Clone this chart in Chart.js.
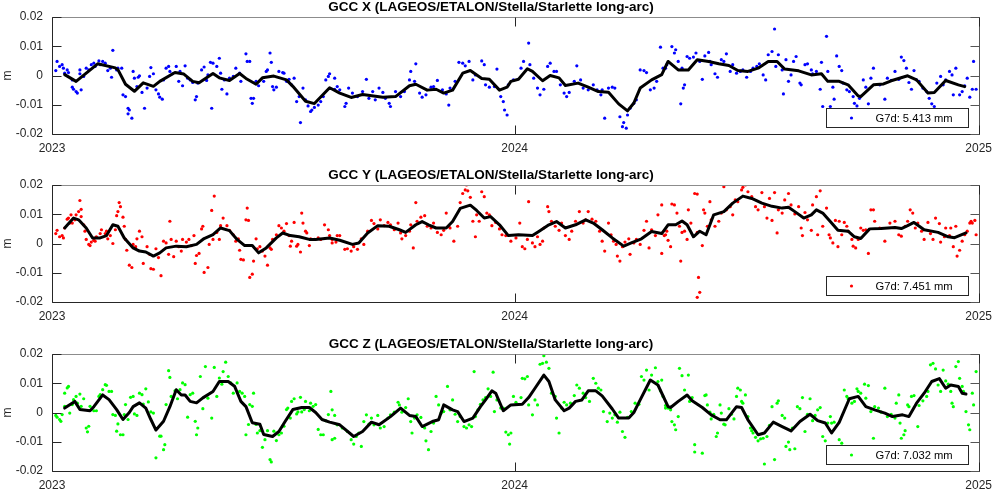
<!DOCTYPE html>
<html>
<head>
<meta charset="utf-8">
<title>GCC</title>
<script src="https://cdn.jsdelivr.net/npm/chart.js@4.4.1/dist/chart.umd.min.js"></script>
<style>
  html, body { margin: 0; padding: 0; background: #fff; }
  #wrap { position: relative; width: 999px; height: 489px; }
  canvas { position: absolute; left: 0; }
</style>
</head>
<body>
<div id="wrap">
  <canvas id="cx" width="999" height="168" style="top:0px"></canvas>
  <canvas id="cy" width="999" height="168" style="top:168px"></canvas>
  <canvas id="cz" width="999" height="168" style="top:337px"></canvas>
</div>
<script>
var tickDays = [0, 365, 731]
var yearLabels = ['2023', '2024', '2025']
var yTickLabels = ['-0.02', '-0.01', '0', '0.01', '0.02']
var panelTitles = [
  'GCC X (LAGEOS/ETALON/Stella/Starlette long-arc)',
  'GCC Y (LAGEOS/ETALON/Stella/Starlette long-arc)',
  'GCC Z (LAGEOS/ETALON/Stella/Starlette long-arc)'
]
var legendLabels = ['G7d: 5.413 mm', 'G7d: 7.451 mm', 'G7d: 7.032 mm']

// ---- GCC X ----
var gccXDots = [
  [3,1.7],[4,4.8],[6,3.1],[8,3.7],[9,2.5],[10,0.8],[12,1.9],[13,1.0],[16,-1.5],[16,-4],[17,-4.7],[19,-5.5],[20,-6],[22,1.9],[22,0.6],[23,-4.9],[25,-0.3],[27,2.5],[29,1.9],[31,3.7],[33,4.2],[34,3.1],[37,5],[38,3.7],[40,4.8],[42,4.2],[44,1.7],[46,2.5],[47,-0.6],[48,8.6],[51,1.9],[52,2.5],[55,2.5],[56,-6.6],[58,-7.2],[60,-11.2],[60,-13.1],[61,-11.8],[63,-14.6],[64,1.4],[65,-0.9],[67,-3.8],[68,-0.6],[69,-0.1],[71,-5.8],[73,-11.2],[75,-4.3],[77,-0.3],[78,2.7],[80,0.6],[82,-4.9],[84,-6.3],[85,-7.4],[87,-8.1],[88,-1.5],[90,2.5],[92,3.1],[93,1.4],[95,0.6],[98,3.1],[100,-2],[101,1.4],[103,-3.5],[105,3.3],[107,-0.9],[109,-1.5],[111,-2.4],[113,-8.3],[114,-7.2],[115,-2.6],[118,1.9],[120,2.9],[122,-1.7],[123,0.2],[125,4.5],[126,-11.2],[127,4.2],[130,3.1],[132,5.9],[133,0.8],[134,-4.7],[136,-1.5],[138,-6.3],[140,-0.9],[143,-0.3],[145,2.5],[148,0.8],[149,-2],[153,7.4],[154,4.8],[156,4.8],[157,-7.8],[158,-9.5],[159,-7.8],[161,-2],[163,-3.5],[167,-2],[169,1.4],[170,1.9],[172,7.7],[173,4.5],[174,-3.8],[175,-4.9],[177,-4],[179,1.4],[182,1.0],[183,0.8],[185,-2],[187,-1.3],[189,-3.2],[191,-0.9],[193,-8.9],[195,-7.2],[196,-16.1],[198,-4.3],[200,-8.3],[202,-10.4],[204,-12.3],[205,-11.8],[207,-10.9],[210,-10.1],[212,-8.9],[214,-7.2],[216,-1.5],[218,-0.3],[219,0.6],[223,-4.7],[225,-3.8],
  [223,-0.9],[227,-4.9],[231,-10.6],[232,-9.5],[234,-4.3],[237,-6],[241,-7.2],[245,-5.5],[248,-1.3],[250,-7.8],[253,-5.5],[255,-8.3],[258,-4.3],[261,-5.8],[263,-7.8],[266,-9.5],[267,-10.6],[271,-5.5],[275,-7.2],[278,-5.5],[282,-1.5],[283,1.4],[286,-2],[287,4],[290,-6],[292,-7.4],[295,-6.6],[299,-4],[301,-3.8],[304,-1.7],[308,-4.9],[311,-6.3],[313,-10.1],[314,-4.3],[318,-2],[321,4.5],[324,4.2],[326,3.3],[329,4.8],[332,-1.5],[334,0.2],[339,5],[341,3.7],[342,-3.2],[345,-4],[349,-3.8],[351,2.2],[354,-7.2],[356,-8.9],[357,-11.8],[359,-13.5],[360,-3.2],[364,-1.5],[370,2.5],[372,4.8],[376,11.1],[377,3.7],[380,-0.9],[383,-4.3],[385,-6.6],[388,-4.7],[391,3.1],[393,4.2],[396,1.4],[398,1.4],[401,-3.2],[404,-6],[406,-7.2],[408,-5.8],[412,-2],[414,3.3],[417,-1.5],[419,-4.3],[423,-4.9],[427,-3.2],[430,-4.9],[433,-6.6],[434,-4.9],[436,-14.6],[439,-4.3],[442,-4],[444,-4.3],[448,-14.1],[450,-17.5],[451,-16.1],[453,-18],[454,-13.5],[456,-11.2],[459,-9.5],[461,-8.3],[464,1.9],[467,1.7],[469,1],[472,-4.9],[475,-4.3],[477,-2],[480,9.7],[482,2.5],[485,3.7],
  [484,2.5],[489,9.9],[491,7.7],[492,8.8],[494,4.8],[496,-9.7],[497,2.5],[498,-4.3],[499,-3.2],[501,6.5],[503,5.9],[506,6.3],[508,7.7],[511,4.8],[513,-1.3],[515,6.7],[518,7.9],[519,4.8],[520,3.7],[523,0.6],[525,-0.6],[528,5.4],[530,4.8],[532,7.4],[535,1.4],[537,3.7],[540,0.8],[543,1.4],[545,1.9],[548,-0.6],[551,1.4],[553,2.5],[556,3.1],[558,4],[561,0.2],[563,-1.5],[565,7.1],[568,8.2],[570,15.9],[571,3.1],[573,7.1],[576,1.9],[577,-6.3],[579,5.4],[581,-2],[583,0.2],[585,4.8],[587,6.5],[590,-2.6],[591,-3.2],[594,3.7],[596,4],[599,1.9],[600,0.6],[603,1.4],[606,-4.7],[607,4.5],[608,-10.6],[611,13.4],[612,1.4],[614,-10.6],[616,-4],[617,-8.1],[619,6.7],[621,3.1],[623,1.7],[624,-2.6],[627,-4.9],[629,-5.5],[632,-7.2],[633,-9.5],[635,-10.4],[637,-7.8],[640,-1.5],[642,-4],[644,-9.7],[646,-0.9],[648,2.5],[653,-3.2],[657,-8.1],[659,-0.9],[662,-1.7],[665,1.4],[668,-1.3],[670,6.3],[672,5.1],[674,2.5],[676,-2.4],[678,-4.7],[680,1.7],[682,-1.5],[684,-2],[687,-4.3],[690,-5.5],[692,-7.8],[694,-9.7],[696,-10.6],[698,-2.6],[701,-0.3],[703,-3.2],[705,-1.5],[708,1.4],[710,0.2],[711,-6.6],[713,2.5],[716,-6.6],[718,-5.5],[720,-3.5],[722,-0.9],[724,-7.4],[726,-4.7],[727,4.8],[729,-4.7]
]
var gccXFit = [
  [10,0.3],[19,-2],[36,4],[50,2.6],[52,2],[58,-3],[65,-5.4],[72,-2.5],[80,-3.7],[85,-2],[97,1],[104,0.5],[111,-2],[116,-2.5],[127,0.7],[132,-0.8],[140,-1.7],[148,0.7],[153,-1],[161,-3],[166,-0.8],[175,-0.2],[185,-1.5],[190,-3.7],[200,-8.8],[207,-9.6],[215,-6],[219,-4.2],[227,-6],[236,-7.5],[245,-6.5],[261,-7.4],[271,-7.2],[282,-3.5],[287,-3],[296,-5],[303,-4.7],[309,-6],[316,-5],[324,0.8],[330,1.7],[339,-1],[345,-1.3],[353,-5],[359,-4],[362,-2],[368,-1.3],[375,2.3],[379,1.4],[387,-1.8],[393,0],[400,-0.8],[405,-3.4],[415,-2.6],[423,-4],[431,-5.5],[439,-5.7],[447,-9.7],[454,-12.1],[459,-9.4],[464,-4.3],[473,-1.5],[481,0.3],[486,4.8],[494,1.9],[502,1.9],[509,5.4],[518,4.8],[526,4],[534,3.4],[541,1.7],[549,1.4],[557,2.5],[565,4.8],[572,4.8],[578,2.2],[589,1.6],[599,0.2],[607,0.6],[612,-2],[621,-2],[628,-3.2],[636,-7],[638,-7.2],[648,-3.2],[656,-2.9],[662,-1.8],[675,-0.1],[682,-1.5],[691,-6],[696,-5.8],[705,-1.7],[715,-3.2],[720,-3.8]
]

// ---- GCC Y ----
var gccYDots = [
  [3,3.4],[4,4.5],[6,2.3],[8,2.7],[9,1.9],[10,5.3],[12,8.3],[13,8.7],[14,7],[15,9.8],[16,7],[18,8.1],[19,9.8],[21,10.9],[22,14.7],[23,11.7],[23,9.2],[25,6.4],[26,4.2],[27,1.4],[29,-0.3],[30,-0.7],[31,0.5],[33,1.1],[34,0.8],[35,2.3],[38,3.4],[39,4.7],[42,3.4],[43,4.2],[44,1.6],[46,2.7],[48,0],[50,4.7],[51,9.5],[52,10.9],[53,14],[54,12.6],[56,9],[57,5.9],[58,1.4],[59,-2.3],[61,-7.4],[63,-8.2],[64,-0.3],[66,-1.1],[67,1.6],[69,4.2],[71,2.3],[72,-6.8],[75,-1.1],[77,-3.7],[78,-8.6],[80,-8.8],[82,-1.8],[84,-4.8],[86,-11],[88,0.8],[90,0.2],[92,-3.7],[93,7.6],[94,1.4],[96,-4.5],[98,0.8],[100,-1.1],[102,-2.6],[103,1.4],[106,0.5],[108,1.4],[110,-0.7],[112,2.7],[113,-6.8],[114,-4.1],[116,-3.4],[118,5],[119,5.9],[120,-9.9],[123,-8.2],[124,-0.3],[126,11.3],[127,1.4],[128,16.2],[130,3.8],[132,1.4],[133,6.1],[135,8.7],[138,6.1],[140,4.5],[143,3],[145,0.8],[147,1.6],[148,-2.3],[149,-5.4],[151,-5.6],[153,8.1],[154,12.1],[155,7.9],[156,-11.6],[158,-10.5],[159,-6],[161,1.6],[162,-1.8],[164,-1.1],[166,-2.6],[168,-4.3],[170,-7.4],[172,-1.5],[173,-2],[174,1.4],[177,3],[179,6.1],[181,5.3],[183,4.2],[185,6.8],[187,2.7],[188,-0.9],[189,0.8],[191,7.2],[193,-0.9],[194,-0.3],[196,-2.9],[197,10.4],[198,7],[200,4.2],[201,3.6],[203,-0.7],[204,1.6],[207,1.4],[210,1.9],[212,1.4],[215,6.4],[218,4.7],[219,2.7],[221,0.2],[225,2.7],
  [221,1.4],[224,0.5],[227,2.7],[231,-2],[233,-1.8],[236,-2.6],[238,-1.1],[241,-2],[244,1.6],[246,-0.3],[249,4.2],[252,7.9],[254,6.8],[257,5],[259,8.1],[262,6.1],[265,7.2],[267,6.4],[270,4.7],[273,7],[275,3.6],[276,1.6],[279,2.7],[282,4.2],[283,6.4],[285,-1.5],[287,14],[288,7.6],[291,9],[294,9.5],[296,5.9],[299,5.3],[301,7],[304,3.8],[307,3],[309,4.5],[311,10.4],[313,5.9],[314,5.3],[317,0.8],[320,5.9],[322,14],[324,17.1],[326,18.3],[327,20],[328,18],[330,15.8],[332,7.6],[334,2.3],[335,9.8],[337,7.6],[339,17.7],[341,16],[343,10.4],[345,9.8],[347,6.1],[350,7.2],[353,5],[355,3],[358,2.7],[362,0.8],[366,1.9],[369,7],[371,-1.1],[373,-1.8],[375,1.4],[376,14.3],[379,0.2],[381,-1.1],[383,2.3],[385,-0.3],[387,0.8],[388,5.3],[391,12.6],[392,10.9],[394,7.6],[397,5.9],[400,4.5],[402,7],[405,2.7],[408,1.4],[410,4.2],[413,7.6],[416,10.9],[419,7],[421,8.1],[423,10.9],[426,8.3],[429,7.6],[432,4.2],[434,0.8],[436,-2.6],[439,7],[441,3],[443,0.8],[445,-0.3],[446,-4.3],[448,-6],[450,-1.1],[452,0.5],[455,1.6],[456,-3.7],[459,0.2],[461,1.4],[464,-0.3],[467,4.5],[469,7.6],[471,-1.5],[473,4.7],[476,2.7],[478,9.8],[481,13.2],[481,-3.4],[483,2.7],[485,4.2],
  [484,3],[486,1.1],[488,-1.1],[489,13.5],[491,13.2],[493,10.4],[495,5.9],[496,-6],[497,3.8],[499,4.2],[501,1.4],[502,11.5],[504,7],[507,17.1],[509,16.9],[509,3.8],[510,-11.6],[511,-16.7],[509,-18.4],[513,-0.7],[514,11.5],[515,10.4],[517,5.9],[519,14.3],[520,8.1],[523,5.9],[526,7.6],[528,10.4],[530,19.4],[532,11.5],[535,12.6],[537,9.8],[539,14.9],[541,14.3],[544,18.3],[545,19.2],[547,20],[549,17.7],[552,16],[555,12.6],[557,11.5],[560,17.4],[562,12.6],[564,8.7],[566,15.4],[568,7.9],[570,17.4],[572,3.6],[573,11.5],[576,10.4],[578,14.9],[581,17.1],[583,13.2],[586,10.1],[589,12.6],[591,5.3],[592,2.7],[594,10.6],[596,8.1],[599,4.5],[600,13.2],[603,16],[604,3],[606,18],[608,5.9],[611,12.1],[613,3],[614,1.9],[616,0.2],[618,7.9],[620,-1.1],[621,7.6],[623,3],[625,7.2],[627,5.9],[628,4.2],[631,1.4],[632,-0.9],[634,-1.5],[636,1.4],[638,5.3],[640,4.5],[642,4.7],[644,-3.4],[646,11.5],[648,11.5],[649,7.6],[653,5.3],[657,0.8],[661,7],[665,7.6],[668,3],[670,2.5],[673,5.9],[675,7.6],[677,11.5],[679,10.4],[681,5.3],[683,7],[686,4.2],[688,1.4],[691,7.2],[693,3.4],[695,1.4],[697,8.7],[700,6.8],[701,0.5],[704,2.3],[705,5.3],[708,2.7],[709,5.3],[711,-1.1],[713,5.9],[714,-4.3],[716,-2.3],[718,0.8],[720,3],[722,4.2],[724,7],[725,7.6],[726,7],[728,7.9],[729,3]
]
var gccYFit = [
  [10,5.3],[17,8.7],[21,8.1],[27,5.3],[32,1.9],[38,1.9],[43,2.7],[48,6.4],[52,5.9],[57,1.9],[64,-1.5],[69,-2.6],[74,-2.9],[80,-4.3],[85,-3.2],[90,-1.5],[98,-0.9],[106,-1.1],[114,-0.3],[120,1.7],[127,3],[133,5.3],[140,4.4],[146,1.4],[152,-0.7],[158,-0.7],[163,-3.2],[169,-1.5],[177,1.9],[182,3.6],[188,2.7],[195,2.3],[203,1.4],[208,1.4],[219,1.9],
  [227,1.1],[237,-0.3],[242,0.2],[249,3.6],[257,6.1],[266,5.9],[274,4.7],[279,3.8],[287,6.4],[292,7.5],[297,6.4],[303,5.3],[311,5.3],[316,7.5],[322,12],[330,13.1],[335,11.3],[341,8.7],[346,9.2],[353,6.4],[360,2.7],[368,3],[379,2.7],[384,4.1],[392,6.4],[398,7.5],[405,5.3],[413,6.4],[421,8.1],[427,7],[434,4.7],[442,1.9],[451,-0.9],[457,0.2],[465,1.6],[473,4.1],[481,3.4],[486,6.4],
  [492,6.4],[497,7.7],[501,6.4],[506,2.3],[511,4.2],[516,3],[522,9.8],[530,10.9],[537,13.8],[545,16.2],[552,15.4],[560,13.8],[568,12.7],[576,12.1],[581,12.4],[586,10.9],[593,8.7],[599,9.8],[603,11.5],[608,10.4],[615,7],[620,4.5],[628,4.2],[633,2.3],[638,1.7],[645,5],[654,5.1],[665,5.5],[670,5.1],[675,6.1],[680,7.2],[688,4.7],[699,3.8],[707,2.3],[712,2],[721,3.6]
]

// ---- GCC Z ----
var gccZDots = [
  [3,-1],[4,-1.6],[6,-2.4],[7,-3],[8,-0.7],[10,2.1],[10,6.6],[12,8.4],[13,8.9],[14,-0.2],[16,2.7],[17,4.4],[19,5.5],[20,3.2],[22,6.3],[23,2.1],[25,4.7],[27,-5.3],[28,-6.6],[29,-4.7],[30,2.1],[33,0.6],[35,0.6],[37,5.5],[38,6.1],[40,7.8],[42,9.5],[43,9.3],[45,7.2],[47,7.2],[48,-0.7],[50,-1],[51,-6.4],[52,-3.9],[54,-7.6],[56,-7.6],[57,-0.7],[58,2.7],[60,-2.4],[62,5.2],[64,5.5],[65,-0.5],[67,-1],[69,6.6],[71,6.1],[72,2.9],[74,8.1],[76,3.6],[78,0.2],[80,-0.2],[82,-15.5],[85,-8.1],[86,-8.1],[88,-12.7],[89,-11],[90,2.7],[92,14.3],[93,12],[94,5.5],[97,7.4],[99,4.7],[101,7.8],[103,10.1],[105,9.5],[107,-1.6],[109,6.1],[111,6.6],[113,-3],[114,-7.6],[115,-5.3],[117,12.3],[119,1.3],[121,15.7],[123,4.9],[126,-1.9],[128,15.4],[130,5.5],[132,11.8],[134,9.7],[135,14],[137,17.2],[139,12.3],[141,10.1],[143,6.6],[146,10.1],[148,7.2],[150,6.6],[152,5.5],[153,-7.6],[155,-4.1],[156,2.7],[158,2.1],[159,6.6],[161,-4.1],[162,-7],[164,-6.2],[166,-11.9],[168,-9.3],[170,-6.2],[172,-16.1],[173,-16.9],[175,-6.4],[177,-9.6],[179,-7.6],[181,-7],[183,-4.7],[185,1],[186,1.5],[188,-1.9],[189,3.8],[191,4.7],[193,-0.5],[194,0.2],[196,5.2],[197,0.2],[199,1],[200,3.8],[203,0.6],[204,3.2],[206,2.1],[208,2.7],[210,-5.8],[212,-7.6],[214,-7.6],[216,-2.8],[218,-0.7],[220,7.2],[221,-9.3],[223,-1],[225,-4.1],
  [221,0.9],[223,-8.8],[225,-4.2],[229,-5.3],[233,-6.5],[236,-9.3],[238,-10.8],[240,-8.2],[242,-7],[244,-11.6],[246,-3.1],[248,-0.8],[250,-4],[252,-1.9],[254,-4.2],[257,-1],[259,-5.3],[262,-4.8],[265,-1.9],[267,-0.8],[270,0.1],[273,3.5],[274,2.6],[276,0.1],[279,1.7],[281,4.7],[283,-3.1],[284,-7],[286,-1.9],[288,-0.8],[291,-1.7],[294,-5.3],[295,-9.7],[297,-12.7],[299,-6.5],[301,-3.6],[303,5.5],[305,2.6],[307,-0.2],[309,0.3],[312,8.9],[314,0.9],[316,4.3],[318,-0.6],[320,-3.1],[322,-1.4],[325,-4.8],[327,-5.3],[329,-4.2],[331,-4.8],[333,14],[334,-1.4],[336,0.9],[338,2.8],[340,4.3],[342,5.1],[344,8.1],[346,5.5],[348,13.8],[349,0.3],[351,4.3],[354,1.5],[356,1.5],[358,-6.7],[360,-7.6],[362,-7],[361,-10.8],[364,5.5],[366,3.5],[370,5.1],[371,11.7],[373,11.5],[375,12.3],[376,2.6],[379,-0.8],[381,4.3],[383,2.6],[385,16.5],[387,16.8],[388,19.4],[390,17.2],[392,15.1],[394,6.6],[397,5.5],[398,-1.9],[400,-7],[402,1.5],[404,3.5],[406,2.6],[409,3.2],[412,5.8],[414,9.4],[416,8.3],[419,6.6],[421,5.1],[424,3.8],[427,11.7],[429,10],[431,8.3],[433,7.7],[435,0.3],[438,-3.1],[440,-0.2],[442,-1.9],[444,-0.8],[446,-3.3],[448,0.1],[450,-6.5],[452,-8.5],[454,-1.7],[457,0.3],[460,3.2],[463,2.8],[465,12.3],[467,11.1],[469,14.5],[471,7.7],[473,12.8],[476,15.3],[478,10.6],[480,7.4],[482,5.5],[484,1.5],
  [481,11.1],[484,2.4],[486,1.5],[488,0.9],[489,-3.1],[491,-4.2],[492,-5.9],[494,-1.4],[495,15.1],[497,12.6],[499,7.7],[502,12.8],[503,3.8],[505,5.1],[507,-11],[507,-13.5],[513,-13.9],[515,5.8],[516,6],[517,2.6],[519,0.1],[520,-2.2],[522,-0.6],[524,-8.2],[525,-7],[527,2.6],[528,-0.2],[530,-4],[531,-4.2],[534,1.3],[536,-0.6],[538,-2.2],[540,5.5],[541,8.3],[543,7.7],[544,3.8],[545,3.2],[547,6],[549,-1.4],[551,-5.3],[552,-6.2],[553,-7],[555,-8.5],[557,-9.7],[559,-9],[561,-8.8],[562,-17.6],[564,-8.2],[566,-4.4],[568,2],[570,-16.1],[572,3.2],[573,4],[576,-1],[578,-1.9],[579,-11.6],[581,-10.1],[582,-12.7],[584,-5.3],[586,-12.4],[588,2],[590,1.3],[592,5.1],[594,-6.5],[596,-0.6],[598,4.7],[600,-2.8],[602,-1],[604,0.9],[606,1.7],[608,-8.2],[610,-9.7],[612,-3.6],[614,-1.4],[615,-3.6],[617,-3.3],[621,-9.3],[623,-10.5],[625,7.7],[627,5.5],[628,4.7],[631,3.2],[633,3.8],[635,8.1],[636,7.2],[638,6.6],[641,9.7],[642,4.9],[644,9.2],[646,0.3],[648,-8.8],[649,2],[652,1.5],[654,0.1],[657,8.3],[659,-1.4],[662,-0.6],[665,-1.9],[666,3.2],[668,6],[669,-3.6],[670,-8.8],[672,-7.6],[673,-6.2],[675,2.6],[676,2],[678,5.5],[680,5.8],[683,-4.8],[684,2.4],[687,4],[690,5.5],[691,7.2],[693,16.3],[695,16.8],[697,14.9],[699,9.4],[701,7.2],[703,14.5],[705,10.8],[707,9.7],[709,7.2],[710,3.2],[711,2],[713,15.7],[715,17.4],[716,11.7],[718,8.9],[719,7.2],[721,0.3],[723,-4.2],[724,-5.9],[726,6.6],[727,2.6],[729,14]
]
var gccZFit = [
  [10,1.5],[18,3.8],[22,1],[30,0.6],[33,2],[40,6],[45,4.4],[51,1],[56,-2.4],[61,0],[64,2],[69,3.3],[74,1.5],[78,-2.4],[82,-6],[88,-3],[93,2],[98,7.8],[102,6],[105,6],[109,3.8],[114,3.3],[119,5],[127,7.2],[132,10.6],[139,10.6],[144,9],[149,3.8],[153,2],[158,-3.5],[164,-4],[167,-7.5],[174,-8.2],[179,-6.5],[184,-3],[190,1],[197,1.7],[203,1.7],[208,0],[213,-2.4],[219,-3.3],
  [227,-4.2],[238,-8.2],[245,-6.5],[252,-3.3],[258,-4.2],[267,-1.4],[275,1.5],[282,-1],[287,-1.4],[292,-4.8],[300,-3.1],[305,-2.5],[309,2.6],[316,0.9],[320,0.3],[325,-3.1],[332,-1.9],[338,2],[342,4.3],[347,7.4],[350,6.6],[356,0.6],[362,2.6],[371,2.8],[376,5.1],[381,8.3],[388,12.8],[392,10.6],[397,4.3],[404,0.6],[408,1.5],[413,3.8],[418,4.3],[423,7.4],[429,7.4],[434,5.7],[442,1.2],[447,-1.9],[455,-1.9],[459,0],[464,4.3],[472,11.1],[478,9.4],[486,2],
  [488,1.7],[494,3.8],[501,6],[505,4],[513,1.7],[520,-0.8],[527,-2.5],[532,-2.5],[540,2],[544,1.7],[549,-2.5],[557,-7.6],[562,-7],[569,-3.3],[576,-4.8],[583,-6.3],[590,-3.1],[598,-0.6],[604,-2.8],[610,-3.6],[615,-7],[621,-3.4],[629,4.7],[636,5.5],[642,2],[649,0.9],[657,-0.2],[663,-1.4],[671,-0.8],[676,-1.4],[682,3.2],[688,6.6],[694,10.6],[700,11.6],[705,8.3],[709,9.4],[715,8.9],[718,6.6],[721,6.3]
]

Chart.defaults.font.family = '"Liberation Sans", Arial, Helvetica, sans-serif'
Chart.defaults.font.size = 12
Chart.defaults.color = '#262626'

function toMetres (pts) {
  return pts.map(function (p) { return { x: p[0], y: p[1] / 1000 } })
}

// box, inward ticks and the framed legend, drawn MATLAB style
var framePlugin = {
  id: 'frame',
  afterDraw: function (chart) {
    var ctx = chart.ctx
    var a = chart.chartArea
    var xs = chart.scales.x
    var ys = chart.scales.y
    var L = Math.round(a.left) + 0.5
    var R = Math.round(a.right) + 0.5
    var T = Math.round(a.top) + 0.5
    var B = Math.round(a.bottom) + 0.5
    ctx.save()
    ctx.lineWidth = 1
    ctx.strokeStyle = '#8c8c8c'
    ctx.beginPath(); ctx.moveTo(L, T); ctx.lineTo(R, T); ctx.stroke()
    ctx.strokeStyle = '#555'
    ctx.beginPath(); ctx.moveTo(R, T); ctx.lineTo(R, B); ctx.stroke()
    ctx.strokeStyle = '#262626'
    ctx.beginPath(); ctx.moveTo(L, T); ctx.lineTo(L, B); ctx.lineTo(R, B); ctx.stroke()

    // tick marks pointing inwards
    ys.ticks.forEach(function (t) {
      var y = Math.round(ys.getPixelForValue(t.value)) + 0.5
      ctx.strokeStyle = '#262626'
      ctx.beginPath(); ctx.moveTo(L, y); ctx.lineTo(L + 9, y); ctx.stroke()
      ctx.strokeStyle = '#555'
      ctx.beginPath(); ctx.moveTo(R, y); ctx.lineTo(R - 9, y); ctx.stroke()
    })
    xs.ticks.forEach(function (t) {
      var x = Math.round(xs.getPixelForValue(t.value)) + 0.5
      ctx.strokeStyle = '#262626'
      ctx.beginPath(); ctx.moveTo(x, B); ctx.lineTo(x, B - 9); ctx.stroke()
      ctx.beginPath(); ctx.moveTo(x, T); ctx.lineTo(x, T + 9); ctx.stroke()
    })

    // legend
    var o = chart.options.plugins.frame
    var w = 142, h = 19
    var bx = Math.round(a.right) - 11 - w + 0.5
    var by = Math.round(a.bottom) - 7 - h + 0.5
    ctx.fillStyle = '#fff'
    ctx.fillRect(bx, by, w, h)
    ctx.strokeStyle = '#262626'
    ctx.strokeRect(bx, by, w, h)
    ctx.fillStyle = o.color
    ctx.beginPath(); ctx.arc(bx + 25, by + h / 2, 1.6, 0, Math.PI * 2); ctx.fill()
    ctx.fillStyle = '#000'
    ctx.font = '11.2px "Liberation Sans", Arial, sans-serif'
    ctx.textBaseline = 'middle'
    ctx.textAlign = 'left'
    ctx.fillText(o.label, bx + 49, by + h / 2 + 1)
    ctx.restore()
  }
}

function makePanel (id, title, dots, fit, color, label) {
  return new Chart(document.getElementById(id), {
    type: 'scatter',
    data: {
      datasets: [
        {
          type: 'line',
          data: toMetres(fit),
          borderColor: '#000',
          borderWidth: 3,
          pointRadius: 0,
          tension: 0,
          fill: false,
          borderJoinStyle: 'round',
          borderCapStyle: 'round'
        },
        {
          data: toMetres(dots),
          backgroundColor: color,
          borderWidth: 0,
          pointRadius: 1.6
        }
      ]
    },
    options: {
      responsive: false,
      animation: false,
      devicePixelRatio: 1,
      layout: { padding: { top: 0, left: 0, right: 17, bottom: 0 } },
      plugins: {
        legend: { display: false },
        tooltip: { enabled: false },
        title: {
          display: true,
          text: title,
          color: '#000',
          font: { size: 13.5, weight: 'bold', lineHeight: 1.1 },
          padding: { top: 0, bottom: 2.15 }
        },
        frame: { color: color, label: label }
      },
      scales: {
        x: {
          type: 'linear',
          min: 0,
          max: 731,
          afterBuildTicks: function (s) { s.ticks = tickDays.map(function (v) { return { value: v } }) },
          afterFit: function (s) { s.height = 34 },
          grid: { display: false, drawTicks: false },
          border: { display: false },
          ticks: {
            autoSkip: false,
            maxRotation: 0,
            padding: 7,
            callback: function (v) { return yearLabels[tickDays.indexOf(v)] }
          }
        },
        y: {
          min: -0.02,
          max: 0.02,
          afterFit: function (s) { s.width = 52 },
          grid: { display: false, drawTicks: false },
          border: { display: false },
          ticks: {
            stepSize: 0.01,
            padding: 9,
            callback: function (v, i) { return yTickLabels[i] }
          },
          title: { display: true, text: 'm', padding: { top: 0, bottom: 0 } }
        }
      }
    },
    plugins: [framePlugin]
  })
}

makePanel('cx', panelTitles[0], gccXDots, gccXFit, '#0000ff', legendLabels[0])
makePanel('cy', panelTitles[1], gccYDots, gccYFit, '#ff0000', legendLabels[1])
makePanel('cz', panelTitles[2], gccZDots, gccZFit, '#00ff00', legendLabels[2])
</script>
</body>
</html>
